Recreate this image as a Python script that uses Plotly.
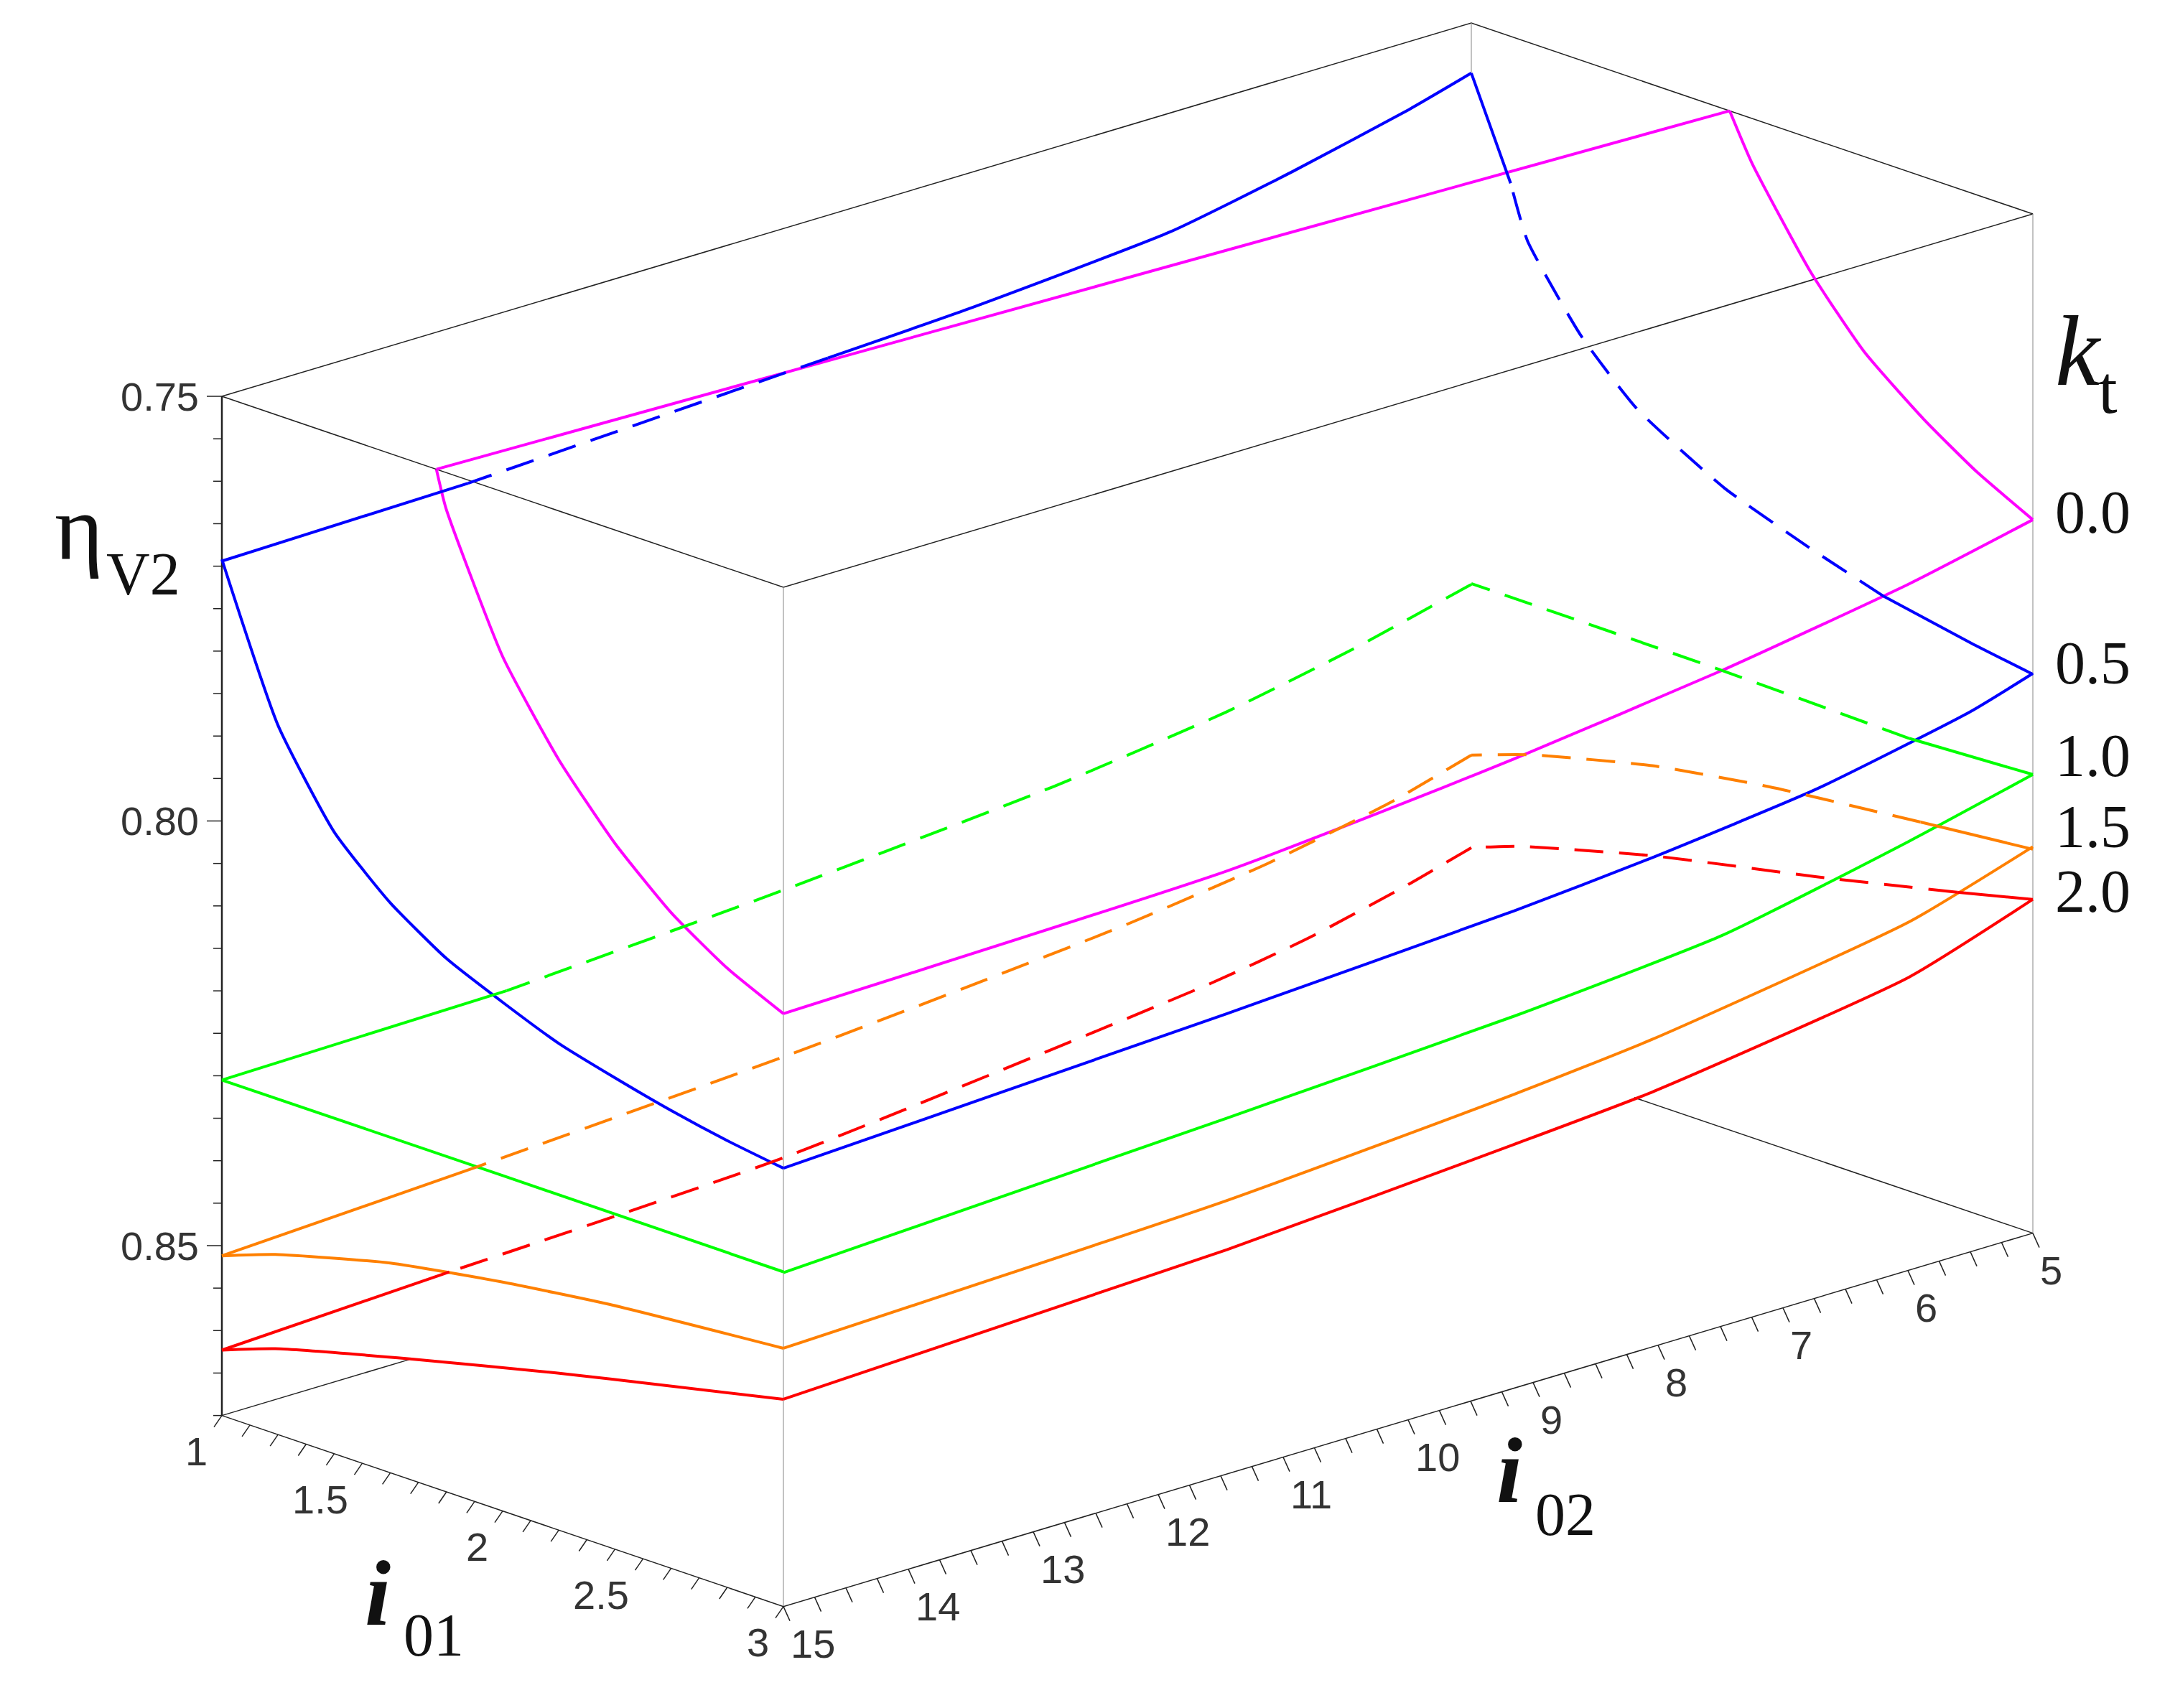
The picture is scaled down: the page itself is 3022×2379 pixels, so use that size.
import plotly.graph_objects as go

# ---- data ----
kt_labels = ['0.0', '0.5', '1.0', '1.5', '2.0']
kt_colors = ['#ff00ff', '#0000ff', '#00ff00', '#ff8000', '#ff0000']

# kt = 0.0 (clipped at eta = 0.75)
m_e1_i01 = [1.764, 1.798, 2.0, 2.2, 2.4, 2.6, 2.8, 3.0]
m_e1_eta = [0.75, 0.7542, 0.7694, 0.7793, 0.7869, 0.7928, 0.7971, 0.8002]
m_e2_i02 = [15, 11.45, 9.73, 9.15, 7.48, 5.99, 5]
m_e2_eta = [0.8002, 0.7990, 0.7968, 0.7959, 0.7928, 0.7892, 0.7860]
m_e3_i01 = [3.0, 2.8, 2.61, 2.4, 2.21, 2.0, 1.92]
m_e3_eta = [0.7860, 0.7826, 0.7785, 0.7730, 0.7658, 0.7553, 0.75]
m_top_i01 = [1.92, 1.764]
m_top_i02 = [5, 15]
m_top_eta = [0.75, 0.75]

# kt = 0.5
b_e1_i01 = [1, 1.2, 1.4, 1.6, 1.8, 2.0, 2.2, 2.4, 2.6, 2.8, 3.0]
b_e1_eta = [0.7692, 0.7865, 0.7968, 0.8029, 0.8072, 0.8101, 0.8127, 0.8145, 0.8161, 0.8174, 0.8184]
b_e2_i02 = [15, 11.45, 9.15, 8.05, 6.73, 5.5, 5]
b_e2_eta = [0.8184, 0.8158, 0.8138, 0.8124, 0.8101, 0.8064, 0.8041]
b_e3_i01 = [3.0, 2.78, 2.47, 2.2, 1.9, 1.59, 1.39, 1.2, 1.14, 1.0]
b_e3_eta = [0.8042, 0.8030, 0.8010, 0.7982, 0.7946, 0.7888, 0.7824, 0.7734, 0.7673, 0.7559]
b_e4_i02 = [5, 5.5, 6.43, 7.41, 9.06, 10.15, 13.03, 15]
b_e4_eta = [0.7559, 0.7580, 0.7612, 0.7640, 0.7660, 0.7668, 0.7689, 0.7694]

# kt = 1.0
g_e1_i01 = [1, 2, 3]
g_e1_eta = [0.8305, 0.8305, 0.8306]
g_e2_i02 = [15, 11.45, 9.15, 7.48, 5.99, 5]
g_e2_eta = [0.8307, 0.8281, 0.8262, 0.8240, 0.8195, 0.8160]
g_e3_i01 = [3.0, 2.56, 1.9, 1.0]
g_e3_eta = [0.8160, 0.8167, 0.8162, 0.8160]
g_e4_i02 = [5, 5.96, 6.96, 8.34, 10.51, 12.72, 15]
g_e4_eta = [0.8161, 0.8196, 0.8225, 0.8252, 0.8279, 0.8300, 0.8305]

# kt = 1.5
o_e1_i01 = [1, 1.19, 1.6, 1.99, 2.38, 3.0]
o_e1_eta = [0.8512, 0.8489, 0.8453, 0.8431, 0.8414, 0.8396]
o_e2_i02 = [15, 11.45, 9.15, 8.05, 5.99, 5]
o_e2_eta = [0.8396, 0.8378, 0.8354, 0.8338, 0.8290, 0.8245]
o_e3_i01 = [3.0, 2.6, 2.06, 1.645, 1.21, 1.0]
o_e3_eta = [0.8248, 0.8261, 0.8280, 0.8302, 0.8338, 0.8362]
o_e4_i02 = [5, 5.64, 6.63, 7.75, 9.06, 10.47, 12.96, 15]
o_e4_eta = [0.8362, 0.8389, 0.8418, 0.8440, 0.8458, 0.8475, 0.8497, 0.8512]

# kt = 2.0
r_e1_i01 = [1, 1.19, 1.67, 2.19, 2.58, 3.0]
r_e1_eta = [0.8623, 0.8600, 0.8558, 0.8516, 0.8487, 0.8456]
r_e2_i02 = [15, 11.45, 9.15, 8.05, 5.99, 5]
r_e2_eta = [0.8456, 0.8436, 0.8413, 0.8400, 0.8355, 0.8307]
r_e3_i01 = [3.0, 2.73, 2.23, 1.645, 1.163, 1.0]
r_e3_eta = [0.8307, 0.8329, 0.8367, 0.8408, 0.8451, 0.8471]
r_e4_i02 = [5, 5.5, 6.3, 7.08, 10.5, 13.18, 15]
r_e4_eta = [0.8471, 0.8492, 0.8520, 0.8539, 0.8594, 0.8611, 0.8623]

i01_ticks = [1, 1.5, 2, 2.5, 3]
i02_ticks = [15, 14, 13, 12, 11, 10, 9, 8, 7, 6, 5]
eta_ticks = [0.75, 0.80, 0.85]
eta_lo, eta_hi = 0.75, 0.87

# ---- oblique box projection (page pixels) ----
def proj(i01, i02, eta):
    x = 301 + 391 * (i01 - 1) + 174 * (15 - i02)
    y = 544 + 133 * (i01 - 1) - 52 * (15 - i02) + 11830 * (eta - 0.75)
    return x, y


fig = go.Figure()
DASH = '40px,22px'


def add_line(i01s, i02s, etas, color, width=4, dash='solid', a=0, b=None, shape='spline'):
    n = len(etas)
    b = n - 1 if b is None else b
    xs, ys = [], []
    for k in range(a, b + 1):
        x, y = proj(i01s[k], i02s[k], etas[k])
        xs.append(x)
        ys.append(y)
    fig.add_trace(go.Scatter(x=xs, y=ys, mode='lines', hoverinfo='skip',
                             line=dict(color=color, width=width, dash=dash,
                                       shape=shape, smoothing=0.5)))


def add_edge(i01s, i02s, etas, color, dashed=None):
    """dashed: (a, b) point index range drawn dashed, rest solid"""
    n = len(etas)
    if dashed is None:
        add_line(i01s, i02s, etas, color)
        return
    a, b = dashed
    if a > 0:
        add_line(i01s, i02s, etas, color, a=0, b=a)
    add_line(i01s, i02s, etas, color, dash=DASH, a=a, b=b)
    if b < n - 1:
        add_line(i01s, i02s, etas, color, a=b, b=n - 1)


def const(v, n):
    return [v] * n


# ---- box ----
box = '#222222'
grey = '#999999'
add_line([1, 3, 3, 1, 1], [15, 15, 5, 5, 15], const(eta_lo, 5), box, width=1.5, shape='linear')
add_line([3, 3], [15, 15], [eta_lo, eta_hi], grey, width=1.2)
add_line([3, 3], [5, 5], [eta_lo, eta_hi], grey, width=1.2)
add_line([1, 1], [5, 5], [eta_lo, 0.7559], grey, width=1.2)
add_line([3, 1.58], [5, 5], [eta_hi, eta_hi], box, width=1.5)
add_line([1, 1], [15, 13.5], [eta_hi, eta_hi], box, width=1.5)
add_line([1, 1], [15, 15], [eta_lo, eta_hi], box, width=2.5)
add_line([1, 3, 3], [15, 15, 5], const(eta_hi, 3), box, width=1.5, shape='linear')

# ---- ticks ----
tx, ty = [], []
for k in range(0, 25):
    e = eta_lo + 0.005 * k
    x, y = proj(1, 15, e)
    ln = 21 if k % 10 == 0 else 12
    tx += [x - ln, x, None]
    ty += [y, y, None]
for k in range(0, 21):
    x, y = proj(1 + 0.1 * k, 15, eta_hi)
    tx += [x, x - 11, None]
    ty += [y, y + 16, None]
for k in range(0, 41):
    x, y = proj(3, 15 - 0.25 * k, eta_hi)
    tx += [x, x + 9, None]
    ty += [y, y + 20, None]
fig.add_trace(go.Scatter(x=tx, y=ty, mode='lines', hoverinfo='skip',
                         line=dict(color=box, width=1.5)))

# ---- curves ----
c = kt_colors
add_edge(m_e1_i01, const(15, len(m_e1_i01)), m_e1_eta, c[0])
add_edge(const(3, len(m_e2_i02)), m_e2_i02, m_e2_eta, c[0])
add_edge(m_e3_i01, const(5, len(m_e3_i01)), m_e3_eta, c[0])
add_edge(m_top_i01, m_top_i02, m_top_eta, c[0])

add_edge(b_e1_i01, const(15, len(b_e1_i01)), b_e1_eta, c[1])
add_edge(const(3, len(b_e2_i02)), b_e2_i02, b_e2_eta, c[1])
add_edge(b_e3_i01, const(5, len(b_e3_i01)), b_e3_eta, c[1], dashed=(2, 8))
add_edge(const(1, len(b_e4_i02)), b_e4_i02, b_e4_eta, c[1], dashed=(5, 6))

add_edge(g_e1_i01, const(15, len(g_e1_i01)), g_e1_eta, c[2])
add_edge(const(3, len(g_e2_i02)), g_e2_i02, g_e2_eta, c[2])
add_edge(g_e3_i01, const(5, len(g_e3_i01)), g_e3_eta, c[2], dashed=(1, 3))
add_edge(const(1, len(g_e4_i02)), g_e4_i02, g_e4_eta, c[2], dashed=(0, 5))

add_edge(o_e1_i01, const(15, len(o_e1_i01)), o_e1_eta, c[3])
add_edge(const(3, len(o_e2_i02)), o_e2_i02, o_e2_eta, c[3])
add_edge(o_e3_i01, const(5, len(o_e3_i01)), o_e3_eta, c[3], dashed=(1, 5))
add_edge(const(1, len(o_e4_i02)), o_e4_i02, o_e4_eta, c[3], dashed=(0, 6))

add_edge(r_e1_i01, const(15, len(r_e1_i01)), r_e1_eta, c[4])
add_edge(const(3, len(r_e2_i02)), r_e2_i02, r_e2_eta, c[4])
add_edge(r_e3_i01, const(5, len(r_e3_i01)), r_e3_eta, c[4], dashed=(1, 5))
add_edge(const(1, len(r_e4_i02)), r_e4_i02, r_e4_eta, c[4], dashed=(0, 5))

# ---- text ----
ann = []
tick_font = dict(family='Liberation Sans', size=56, color='#333333')
for e in eta_ticks:
    x, y = proj(1, 15, e)
    ann.append(dict(x=x - 30, y=y, text='%.2f' % e, xanchor='right', yanchor='middle',
                    showarrow=False, font=tick_font))
for v in i01_ticks:
    x, y = proj(v, 15, eta_hi)
    ann.append(dict(x=x - 18, y=y + 50, text='%g' % v, xanchor='right', yanchor='middle',
                    showarrow=False, font=tick_font))
for v in i02_ticks:
    x, y = proj(3, v, eta_hi)
    ann.append(dict(x=x + 8, y=y + 52, text='%g' % v, xanchor='left', yanchor='middle',
                    showarrow=False, font=tick_font))

serif = 'Liberation Serif'
# kt values next to the right ends of the curves
kt_y = [705, 915, 1044, 1143, 1233]
for lab, y in zip(kt_labels, kt_y):
    ann.append(dict(x=2852, y=y, text=lab, xanchor='left', yanchor='middle', showarrow=False,
                    font=dict(family=serif, size=84, color='#111111')))
ann += [
    dict(x=2852, y=560, text='<i>k</i>', xanchor='left', yanchor='bottom', showarrow=False,
         font=dict(family=serif, size=140, color='#111111')),
    dict(x=2912, y=590, text='t', xanchor='left', yanchor='bottom', showarrow=False,
         font=dict(family=serif, size=96, color='#111111')),
    dict(x=66, y=800, text='η', xanchor='left', yanchor='bottom', showarrow=False,
         font=dict(family=serif, size=130, color='#111111')),
    dict(x=138, y=840, text='V2', xanchor='left', yanchor='bottom', showarrow=False,
         font=dict(family=serif, size=84, color='#111111')),
    dict(x=498, y=2285, text='<b><i>i</i></b>', xanchor='left', yanchor='bottom', showarrow=False,
         font=dict(family=serif, size=130, color='#111111')),
    dict(x=552, y=2318, text='01', xanchor='left', yanchor='bottom', showarrow=False,
         font=dict(family=serif, size=84, color='#111111')),
    dict(x=2074, y=2114, text='<b><i>i</i></b>', xanchor='left', yanchor='bottom', showarrow=False,
         font=dict(family=serif, size=130, color='#111111')),
    dict(x=2128, y=2150, text='02', xanchor='left', yanchor='bottom', showarrow=False,
         font=dict(family=serif, size=84, color='#111111')),
]

fig.update_layout(
    width=3022, height=2379, autosize=False,
    margin=dict(l=0, r=0, t=0, b=0),
    paper_bgcolor='white', plot_bgcolor='white',
    showlegend=False, annotations=ann,
    xaxis=dict(range=[0, 3022], visible=False, fixedrange=True),
    yaxis=dict(range=[2379, 0], visible=False, fixedrange=True),
)

fig.write_html("out.html")
